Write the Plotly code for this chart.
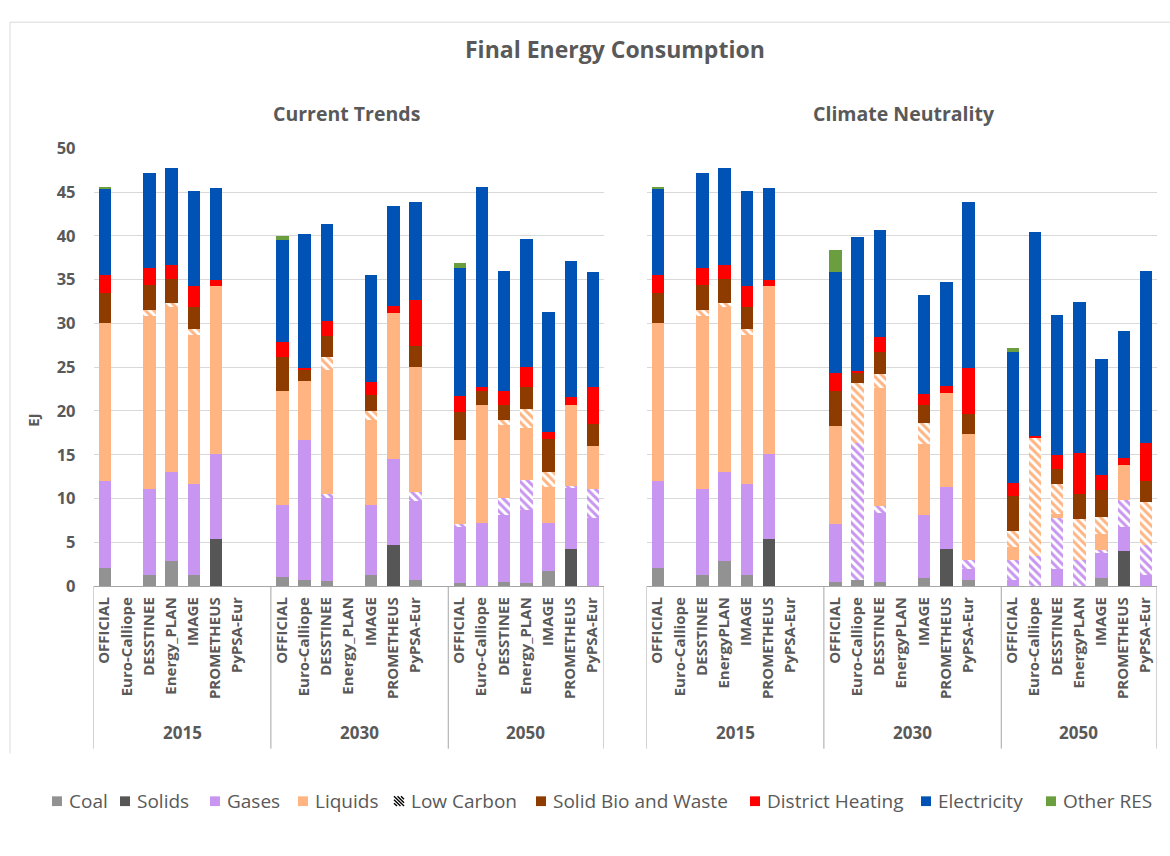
import plotly.graph_objects as go

W, H = 1170, 856

# ---------------------------------------------------------------- data (EJ)
years = ["2015", "2030", "2050"]
models_ct = ["OFFICIAL", "Euro-Calliope", "DESSTINEE", "Energy_PLAN", "IMAGE", "PROMETHEUS", "PyPSA-Eur"]
models_cn = ["OFFICIAL", "Euro-Calliope", "DESSTINEE", "EnergyPLAN", "IMAGE", "PROMETHEUS", "PyPSA-Eur"]

N = None  # model without result for that year

# Current Trends: 7 models x (2015, 2030, 2050)
ct_coal = [2.0, N, 1.3, 2.8, 1.3, 0, N,
           1.05, 0.7, 0.55, N, 1.2, 0, 0.65,
           0.35, 0, 0.5, 0.35, 1.65, 0, 0]
ct_solids = [0, N, 0, 0, 0, 5.4, N,
             0, 0, 0, N, 0, 4.7, 0,
             0, 0, 0, 0, 0, 4.25, 0]
ct_gases = [10.0, N, 9.8, 10.2, 10.3, 9.7, N,
            8.15, 16.0, 9.5, N, 8.0, 9.8, 9.05,
            6.4, 7.2, 7.65, 8.35, 5.5, 6.95, 7.7]
ct_lc_gases = [0, N, 0, 0, 0, 0, N,
               0, 0, 0.5, N, 0, 0, 1.0,
               0.35, 0, 1.9, 3.4, 0, 0.25, 3.4]
ct_liquids = [18.0, N, 19.75, 18.8, 17.1, 19.15, N,
              13.0, 6.75, 14.05, N, 9.7, 16.7, 14.3,
              9.55, 13.4, 8.35, 5.95, 4.15, 9.25, 4.9]
ct_lc_liquids = [0, N, 0.65, 0.5, 0.6, 0, N,
                 0, 0, 1.5, N, 1.05, 0, 0,
                 0, 0, 0.55, 2.15, 1.65, 0, 0]
ct_solid_bio = [3.5, N, 2.85, 2.8, 2.5, 0, N,
                3.9, 1.25, 2.4, N, 1.9, 0, 2.45,
                3.2, 1.6, 1.65, 2.5, 3.8, 0, 2.45]
ct_district_heat = [1.95, N, 1.95, 1.5, 2.5, 0.65, N,
                    1.75, 0.15, 1.75, N, 1.4, 0.75, 5.2,
                    1.8, 0.5, 1.65, 2.25, 0.85, 0.85, 4.25]
ct_electricity = [9.9, N, 10.85, 11.1, 10.75, 10.5, N,
                  11.7, 15.3, 11.05, N, 12.2, 11.45, 11.2,
                  14.6, 22.9, 13.75, 14.7, 13.7, 15.55, 13.15]
ct_other_res = [0.1, N, 0, 0, 0, 0, N,
                0.35, 0, 0, N, 0, 0, 0,
                0.6, 0, 0, 0, 0, 0, 0]

# Climate Neutrality: 7 models x (2015, 2030, 2050)
cn_coal = [2.0, N, 1.3, 2.8, 1.3, 0, N,
           0.45, 0.65, 0.5, N, 0.95, 0, 0.65,
           0, 0, 0, 0, 0.85, 0, 0]
cn_solids = [0, N, 0, 0, 0, 5.4, N,
             0, 0, 0, N, 0, 4.2, 0,
             0, 0, 0, 0, 0, 4.0, 0]
cn_gases = [10.0, N, 9.8, 10.2, 10.3, 9.7, N,
            6.6, 0, 7.85, N, 7.1, 7.1, 1.25,
            0.65, 0, 1.95, 0, 2.95, 2.75, 1.3]
cn_lc_gases = [0, N, 0, 0, 0, 0, N,
               0, 15.7, 0.75, N, 0, 0, 1.05,
               2.3, 3.45, 5.75, 2.95, 0.25, 3.05, 3.35]
cn_liquids = [18.0, N, 19.75, 18.8, 17.1, 19.15, N,
              11.2, 0, 13.5, N, 8.15, 10.75, 14.35,
              1.55, 0, 0.55, 0, 1.85, 3.95, 0]
cn_lc_liquids = [0, N, 0.65, 0.5, 0.6, 0, N,
                 0, 6.8, 1.6, N, 2.4, 0, 0,
                 1.8, 13.55, 3.4, 4.7, 1.95, 0, 4.95]
cn_solid_bio = [3.5, N, 2.85, 2.8, 2.5, 0, N,
                4.05, 1.2, 2.5, N, 2.05, 0, 2.35,
                4.0, 0, 1.75, 2.9, 3.1, 0, 2.4]
cn_district_heat = [1.95, N, 1.95, 1.5, 2.5, 0.65, N,
                    2.0, 0.2, 1.75, N, 1.3, 0.8, 5.25,
                    1.45, 0.1, 1.5, 4.65, 1.7, 0.85, 4.35]
cn_electricity = [9.9, N, 10.85, 11.1, 10.75, 10.5, N,
                  11.5, 15.3, 12.2, N, 11.3, 11.85, 18.9,
                  14.95, 23.35, 16.0, 17.2, 13.25, 14.55, 19.6]
cn_other_res = [0.1, N, 0, 0, 0, 0, N,
                2.55, 0, 0, N, 0, 0, 0,
                0.45, 0, 0, 0, 0, 0, 0]

y_ticks = [0, 5, 10, 15, 20, 25, 30, 35, 40, 45, 50]

# ---------------------------------------------------------------- styling
FONT = "Open Sans"
TXT = "#595959"
GRID = "#d9d9d9"
BOX = "#a6a6a6"

COAL = "#929292"
SOLIDS = "#565656"
GASES = "#c896f0"
LIQUIDS = "#ffb482"
SOLID_BIO = "#8e3b00"
DIST_HEAT = "#ff0000"
ELEC = "#0052b4"
OTHER = "#6a9e3f"

def px(x):
    return x / W

def py(y):
    return 1 - y / H

# slot index along the category axis: 8 slots per year group (last one blank)
slots = [8 * g + m for g in range(len(years)) for m in range(7)]

def solid(c):
    return dict(color=c, line=dict(width=0))

def hatched(c):
    return dict(color=c, line=dict(width=0),
                pattern=dict(shape="\\", fillmode="replace", fgcolor=c,
                             bgcolor="white", size=6, solidity=0.5))

scenarios = [
    ("x", "y", [ct_coal, ct_solids, ct_gases, ct_lc_gases, ct_liquids, ct_lc_liquids,
                ct_solid_bio, ct_district_heat, ct_electricity, ct_other_res]),
    ("x2", "y2", [cn_coal, cn_solids, cn_gases, cn_lc_gases, cn_liquids, cn_lc_liquids,
                  cn_solid_bio, cn_district_heat, cn_electricity, cn_other_res]),
]
stack_names = ["Coal", "Solids", "Gases", "Low Carbon Gases", "Liquids", "Low Carbon Liquids",
               "Solid Bio and Waste", "District Heating", "Electricity", "Other RES"]
stack_markers = [solid(COAL), solid(SOLIDS), solid(GASES), hatched(GASES), solid(LIQUIDS),
                 hatched(LIQUIDS), solid(SOLID_BIO), solid(DIST_HEAT), solid(ELEC), solid(OTHER)]

fig = go.Figure()
for xa, ya, series in scenarios:
    for name, mk, vals in zip(stack_names, stack_markers, series):
        fig.add_trace(go.Bar(x=slots, y=vals, name=name, marker=mk, width=0.56,
                             xaxis=xa, yaxis=ya, showlegend=False))

# ---------------------------------------------------------------- axes
x_dom1 = [px(93.5), px(603.5)]
x_dom2 = [px(646.5), px(1156.5)]
y_dom = [py(590), py(140)]

def xaxis(domain, labels, anchor):
    return dict(domain=domain, anchor=anchor, range=[-0.5, 22.5],
                tickmode="array", tickvals=slots, ticktext=labels * 3,
                tickangle=-90, ticks="", ticklabelstandoff=4,
                tickfont=dict(family=FONT, size=15, color=TXT, weight=700),
                showgrid=False, zeroline=False,
                showline=True, linecolor=BOX, linewidth=1, fixedrange=True)

def yaxis(anchor, labels):
    return dict(domain=y_dom, anchor=anchor, range=[0, 50], tickmode="array",
                tickvals=y_ticks, showticklabels=labels, ticks="",
                ticklabelstandoff=17,
                tickfont=dict(family=FONT, size=16.5, color=TXT, weight=700),
                showgrid=True, gridcolor=GRID, gridwidth=1,
                zeroline=False, showline=False, fixedrange=True)

fig.update_layout(
    xaxis=xaxis(x_dom1, models_ct, "y"),
    xaxis2=xaxis(x_dom2, models_cn, "y2"),
    yaxis=yaxis("x", True),
    yaxis2=dict(yaxis("x2", False), matches="y"),
)

# ---------------------------------------------------------------- category group boxes
shapes = []
for xref in ("x", "x2"):
    for xv in (-0.5, 7.5, 15.5, 22.5):
        shapes.append(dict(type="line", xref=xref, yref="paper", x0=xv, x1=xv,
                           y0=py(590), y1=py(757), line=dict(color=BOX, width=1)))

# outer chart frame
shapes.append(dict(type="line", xref="paper", yref="paper", x0=px(10), x1=px(1170),
                   y0=py(10.5), y1=py(10.5), line=dict(color=GRID, width=1)))
shapes.append(dict(type="line", xref="paper", yref="paper", x0=px(10), x1=px(10),
                   y0=py(10.5), y1=py(762), line=dict(color=GRID, width=1)))

def label(text, x, y, size, xref="paper", bold=True, angle=0, xanchor="center"):
    return dict(text=text, xref=xref, yref="paper", x=x, y=y, textangle=angle,
                showarrow=False, xanchor=xanchor, yanchor="middle",
                font=dict(family=FONT, size=size, color=TXT, weight=700 if bold else 400))

annotations = []
for xref in ("x", "x2"):
    for g, yr in enumerate(years):
        lo = 8 * g - 0.5
        hi = min(8 * g + 7.5, 22.5)
        annotations.append(label(yr, (lo + hi) / 2, py(740), 17, xref=xref))

annotations += [
    label("Final Energy Consumption", px(615), py(38), 23),
    label("Current Trends", px(346), py(104), 19.5),
    label("Climate Neutrality", px(904), py(104), 19.5),
    label("EJ", px(33), py(420), 15, angle=-90),
]

# ---------------------------------------------------------------- legend
legend_items = [("Coal", COAL), ("Solids", SOLIDS), ("Gases", GASES), ("Liquids", LIQUIDS),
                ("Low Carbon", None), ("Solid Bio and Waste", SOLID_BIO),
                ("District Heating", DIST_HEAT), ("Electricity", ELEC), ("Other RES", OTHER)]
legend_x = [52, 120, 210, 298, 394, 536, 750, 921, 1046]
LEG_Y = 811
SQ = 10
for (name, color), lx in zip(legend_items, legend_x):
    top, bot = LEG_Y - SQ / 2, LEG_Y + SQ / 2
    if color is not None:
        shapes.append(dict(type="rect", xref="paper", yref="paper",
                           x0=px(lx), x1=px(lx + SQ), y0=py(bot), y1=py(top),
                           fillcolor=color, line=dict(width=0)))
    else:
        for a in (0, 3.5, 7):
            shapes.append(dict(type="line", xref="paper", yref="paper",
                               x0=px(lx + a), y0=py(top), x1=px(lx + SQ), y1=py(bot - a),
                               line=dict(color="black", width=1.4)))
        for b in (3.5, 7):
            shapes.append(dict(type="line", xref="paper", yref="paper",
                               x0=px(lx), y0=py(top + b), x1=px(lx + SQ - b), y1=py(bot),
                               line=dict(color="black", width=1.4)))
    annotations.append(label(name, px(lx + SQ + 5), py(LEG_Y), 19, bold=False, xanchor="left"))

fig.update_layout(
    width=W, height=H, autosize=False,
    margin=dict(l=0, r=0, t=0, b=0, pad=0),
    paper_bgcolor="white", plot_bgcolor="white",
    barmode="stack", bargap=0, showlegend=False,
    shapes=shapes, annotations=annotations,
    font=dict(family=FONT, color=TXT),
)

fig.write_html("out.html")
